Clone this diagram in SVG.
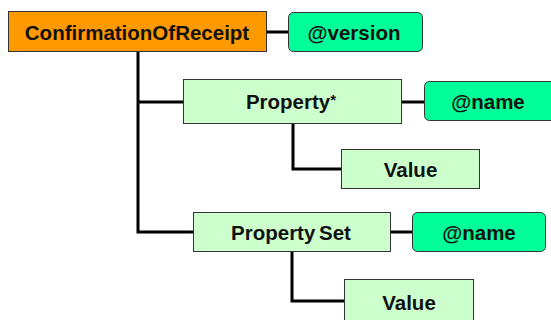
<svg xmlns="http://www.w3.org/2000/svg" width="551" height="320" viewBox="0 0 551 320">
  <style>
    .root { fill: #FF9900; stroke: #333333; stroke-width: 1; }
    .elem { fill: #CCFFCC; stroke: #333333; stroke-width: 1; }
    .attr { fill: #00FF99; stroke: #333333; stroke-width: 1; }
    .lbl { font-family: "Liberation Sans", Arial, sans-serif; font-weight: bold; font-size: 20.5px; fill: #111111; text-anchor: middle; dominant-baseline: central; }
    .link { fill: none; stroke: #000000; stroke-width: 3; }
  </style>
  <rect width="551" height="320" fill="#FFFFFF"/>

  <!-- tree connectors -->
  <g id="connectors">
    <line class="link" x1="267" y1="32" x2="288" y2="32"/>
    <polyline class="link" points="138,52 138,232 193,232"/>
    <line class="link" x1="138" y1="102" x2="183" y2="102"/>
    <line class="link" x1="402" y1="102" x2="424" y2="102"/>
    <polyline class="link" points="293,124 293,169 341,169"/>
    <line class="link" x1="391" y1="232" x2="412" y2="232"/>
    <polyline class="link" points="292,252 292,301 344,301"/>
  </g>

  <g id="confirmationOfReceipt">
    <rect class="root" x="8.5" y="11.5" width="258" height="40"/>
    <text class="lbl" x="137" y="32">ConfirmationOfReceipt</text>
  </g>

  <g id="version">
    <rect class="attr" x="288.5" y="12.5" width="134" height="39" rx="5"/>
    <text class="lbl" x="354" y="32">@version</text>
  </g>

  <g id="property">
    <rect class="elem" x="183.5" y="79.5" width="218" height="44"/>
    <text class="lbl" x="291" y="101.5">Property<tspan font-size="15" dy="-3">*</tspan></text>
  </g>

  <g id="propertyName">
    <rect class="attr" x="424.5" y="81.5" width="134" height="39" rx="5"/>
    <text class="lbl" x="488" y="101">@name</text>
  </g>

  <g id="propertyValue">
    <rect class="elem" x="341.5" y="149.5" width="138" height="39"/>
    <text class="lbl" x="410.5" y="169">Value</text>
  </g>

  <g id="propertySet">
    <rect class="elem" x="193.5" y="212.5" width="197" height="39"/>
    <text class="lbl" x="291" y="232" word-spacing="-2">Property Set</text>
  </g>

  <g id="propertySetName">
    <rect class="attr" x="412.5" y="212.5" width="133" height="39" rx="5"/>
    <text class="lbl" x="479" y="232">@name</text>
  </g>

  <g id="propertySetValue">
    <rect class="elem" x="344.5" y="279.5" width="129" height="50"/>
    <text class="lbl" x="409" y="302">Value</text>
  </g>
</svg>
